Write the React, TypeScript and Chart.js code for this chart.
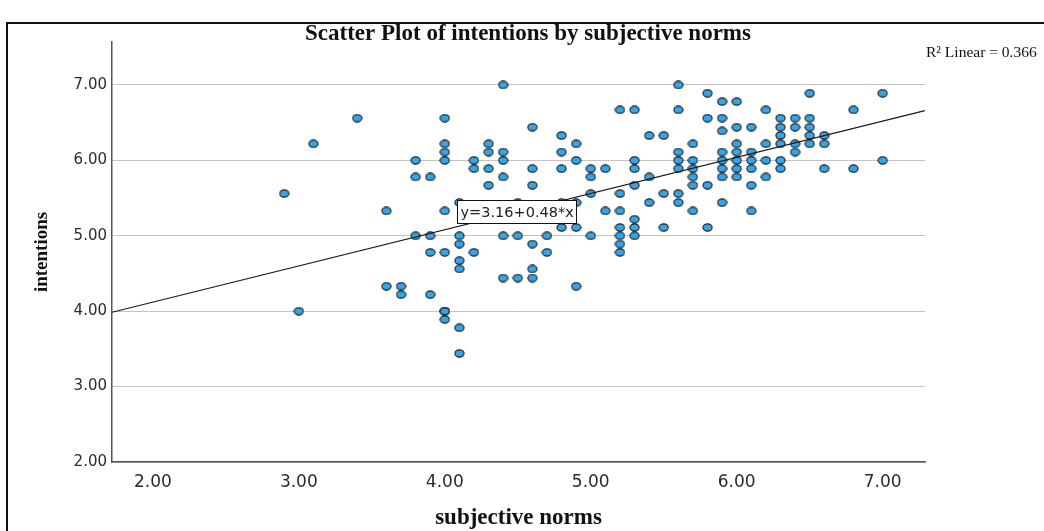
import React, { useEffect, useRef } from 'react';
import { Chart, registerables } from 'chart.js';

Chart.register(...registerables);

// Subjective-norms score levels that occur in the sample (x axis).
const NORM_LEVELS: number[] = [
  2.9, 3.0, 3.1, 3.4, 3.6, 3.7, 3.8, 3.9,
  4.0, 4.1, 4.2, 4.3, 4.4, 4.5, 4.6, 4.7, 4.8, 4.9,
  5.0, 5.1, 5.2, 5.3, 5.4, 5.5, 5.6, 5.7, 5.8, 5.9,
  6.0, 6.1, 6.2, 6.3, 6.4, 6.5, 6.6, 6.8, 7.0,
];

// Intention scores of the respondents at each subjective-norms level (y axis).
const INTENTIONS_AT_LEVEL: number[][] = [
  [5.56],
  [4.0],
  [6.22],
  [6.56],
  [5.33, 4.33],
  [4.33, 4.22],
  [6.0, 5.78, 5.0],
  [5.78, 5.0, 4.78, 4.22],
  [6.56, 6.22, 6.11, 6.0, 5.33, 4.78, 4.0, 4.0, 3.89],
  [5.44, 5.0, 4.89, 4.67, 4.56, 3.78, 3.44],
  [6.0, 5.89, 4.78],
  [6.22, 6.11, 5.89, 5.67],
  [7.0, 6.11, 6.0, 5.78, 5.0, 4.44],
  [5.44, 5.0, 4.44],
  [6.44, 5.89, 5.67, 4.89, 4.56, 4.44],
  [5.0, 4.78],
  [6.33, 6.11, 5.89, 5.44, 5.11],
  [6.22, 6.0, 5.44, 5.11, 4.33],
  [5.89, 5.78, 5.56, 5.0],
  [5.89, 5.33],
  [6.67, 5.56, 5.33, 5.11, 5.0, 4.89, 4.78],
  [6.67, 6.0, 5.89, 5.67, 5.22, 5.11, 5.0],
  [6.33, 5.78, 5.44],
  [6.33, 5.56, 5.11],
  [7.0, 6.67, 6.11, 6.0, 5.89, 5.56, 5.44],
  [6.22, 6.0, 5.89, 5.78, 5.67, 5.33],
  [6.89, 6.56, 5.67, 5.11],
  [6.78, 6.56, 6.39, 6.11, 6.0, 5.89, 5.78, 5.44],
  [6.78, 6.44, 6.22, 6.11, 6.0, 5.89, 5.78],
  [6.44, 6.11, 6.0, 5.89, 5.67, 5.33],
  [6.67, 6.22, 6.0, 5.78],
  [6.56, 6.44, 6.33, 6.22, 6.0, 5.89],
  [6.56, 6.44, 6.22, 6.11],
  [6.89, 6.56, 6.44, 6.33, 6.22],
  [6.33, 6.22, 5.89],
  [6.67, 5.89],
  [6.89, 6.0],
];

// Axis ticks and ranges.
const X_TICKS: number[] = [2, 3, 4, 5, 6, 7];
const Y_TICKS: number[] = [2, 3, 4, 5, 6, 7];
const X_RANGE: number[] = [1.72, 7.29];
const Y_RANGE: number[] = [2.0, 7.57];

// Linear fit reported for the data.
const FIT_INTERCEPT = 3.16;
const FIT_SLOPE = 0.48;
const R_SQUARED = 0.366;

// Where the fit equation label sits (left edge, vertical centre), in data units.
const EQUATION_AT = { x: 4.086, y: 5.32 };

const TITLE = 'Scatter Plot of intentions by subjective norms';
const X_TITLE = 'subjective norms';
const Y_TITLE = 'intentions';

const SERIF = '"Liberation Serif", "Times New Roman", serif';
const SANS = '"DejaVu Sans", sans-serif';

function makeMarker(): HTMLCanvasElement {
  const c = document.createElement('canvas');
  c.width = 11;
  c.height = 9;
  const g = c.getContext('2d')!;
  g.beginPath();
  g.ellipse(5.5, 4.5, 4.6, 3.6, 0, 0, Math.PI * 2);
  g.fillStyle = '#33a6eb';
  g.fill();
  g.lineWidth = 1.1;
  g.strokeStyle = '#1b1b1b';
  g.stroke();
  return c;
}

const labelsPlugin = {
  id: 'fitLabels',
  afterDatasetsDraw(chart: any) {
    const { ctx, scales } = chart;
    const xs = scales.x;
    const ys = scales.y;
    const text = `y=${FIT_INTERCEPT.toFixed(2)}+${FIT_SLOPE.toFixed(2)}*x`;
    ctx.save();
    ctx.font = `14.5px ${SANS}`;
    const left = Math.round(xs.getPixelForValue(EQUATION_AT.x)) + 0.5;
    const cy = ys.getPixelForValue(EQUATION_AT.y);
    const w = Math.round(ctx.measureText(text).width + 6);
    const h = 23;
    const top = Math.round(cy - h / 2) + 0.5;
    ctx.fillStyle = '#ffffff';
    ctx.fillRect(left, top, w, h);
    ctx.strokeStyle = '#111111';
    ctx.lineWidth = 1;
    ctx.strokeRect(left, top, w, h);
    ctx.fillStyle = '#222222';
    ctx.textAlign = 'left';
    ctx.textBaseline = 'middle';
    ctx.fillText(text, left + 3, top + h / 2 + 1);
    ctx.restore();
  },
  afterDraw(chart: any) {
    const { ctx } = chart;
    ctx.save();
    ctx.fillStyle = '#111111';
    ctx.textBaseline = 'alphabetic';
    ctx.textAlign = 'center';
    ctx.font = `bold 23px ${SERIF}`;
    ctx.fillText(TITLE, 528, 40);

    ctx.textAlign = 'left';
    ctx.font = `15.5px ${SERIF}`;
    ctx.fillText(`R\u00B2 Linear = ${R_SQUARED.toFixed(3)}`, 926, 57);
    ctx.restore();
  },
};

export default function App() {
  const canvasRef = useRef<HTMLCanvasElement | null>(null);

  useEffect(() => {
    const canvas = canvasRef.current;
    if (!canvas) return;
    const marker = makeMarker();

    const points: { x: number; y: number }[] = [];
    NORM_LEVELS.forEach((norm, i) => {
      INTENTIONS_AT_LEVEL[i].forEach((intent) => points.push({ x: norm, y: intent }));
    });

    const fitLine = [X_RANGE[0], X_RANGE[1]].map((x) => ({ x, y: FIT_INTERCEPT + FIT_SLOPE * x }));

    const chart = new Chart(canvas, {
      type: 'scatter',
      data: {
        datasets: [
          {
            type: 'line',
            label: 'Linear fit',
            data: fitLine,
            borderColor: '#151515',
            borderWidth: 1.2,
            pointRadius: 0,
            fill: false,
            tension: 0,
          } as any,
          {
            label: Y_TITLE,
            data: points,
            pointStyle: marker as any,
            pointRadius: 5,
            pointHoverRadius: 5,
          },
        ],
      },
      options: {
        animation: false,
        responsive: true,
        maintainAspectRatio: false,
        events: [],
        layout: { padding: { top: 42, right: 119, bottom: 0, left: 0 } },
        plugins: {
          legend: { display: false },
          tooltip: { enabled: false },
          title: { display: false },
        },
        scales: {
          x: {
            type: 'linear',
            min: X_RANGE[0],
            max: X_RANGE[1],
            afterBuildTicks: (s: any) => {
              s.ticks = X_TICKS.map((value) => ({ value }));
            },
            afterFit: (s: any) => {
              s.height = 69;
            },
            grid: { display: false, drawTicks: false },
            border: { display: true, color: '#555555', width: 1.5 },
            ticks: {
              padding: 10,
              color: '#2b2b2b',
              font: { family: SANS, size: 17 },
              callback: (v: any) => Number(v).toFixed(2),
            },
            title: {
              display: true,
              text: X_TITLE,
              color: '#111111',
              font: { family: SERIF, size: 23, weight: 'bold', lineHeight: 1 },
              padding: { top: 0, bottom: 1.5 },
            },
          },
          y: {
            type: 'linear',
            min: Y_RANGE[0],
            max: Y_RANGE[1],
            afterBuildTicks: (s: any) => {
              s.ticks = Y_TICKS.map((value) => ({ value }));
            },
            afterFit: (s: any) => {
              s.width = 112;
            },
            grid: { display: true, color: '#c4c4c4', lineWidth: 1, drawTicks: false },
            border: { display: true, color: '#555555', width: 1.5 },
            ticks: {
              padding: 5,
              color: '#2b2b2b',
              font: { family: SANS, size: 15 },
              callback: (v: any) => Number(v).toFixed(2),
            },
            title: {
              display: true,
              text: Y_TITLE,
              color: '#111111',
              font: { family: SERIF, size: 19, weight: 'bold', lineHeight: 1 },
              padding: { top: 33, bottom: 0 },
            },
          },
        },
      },
      plugins: [labelsPlugin],
    });

    return () => chart.destroy();
  }, []);

  return (
    <div style={{ position: 'absolute', left: 0, top: 0, width: 1044, height: 531, background: '#ffffff', overflow: 'hidden' }}>
      <div style={{ position: 'absolute', left: 0, top: 0, width: 1044, height: 531 }}>
        <canvas ref={canvasRef} />
      </div>
      <div
        style={{
          position: 'absolute',
          left: 6,
          top: 22,
          width: 1038,
          height: 509,
          borderTop: '2px solid #111',
          borderLeft: '2px solid #111',
          boxSizing: 'border-box',
          pointerEvents: 'none',
        }}
      />
    </div>
  );
}
